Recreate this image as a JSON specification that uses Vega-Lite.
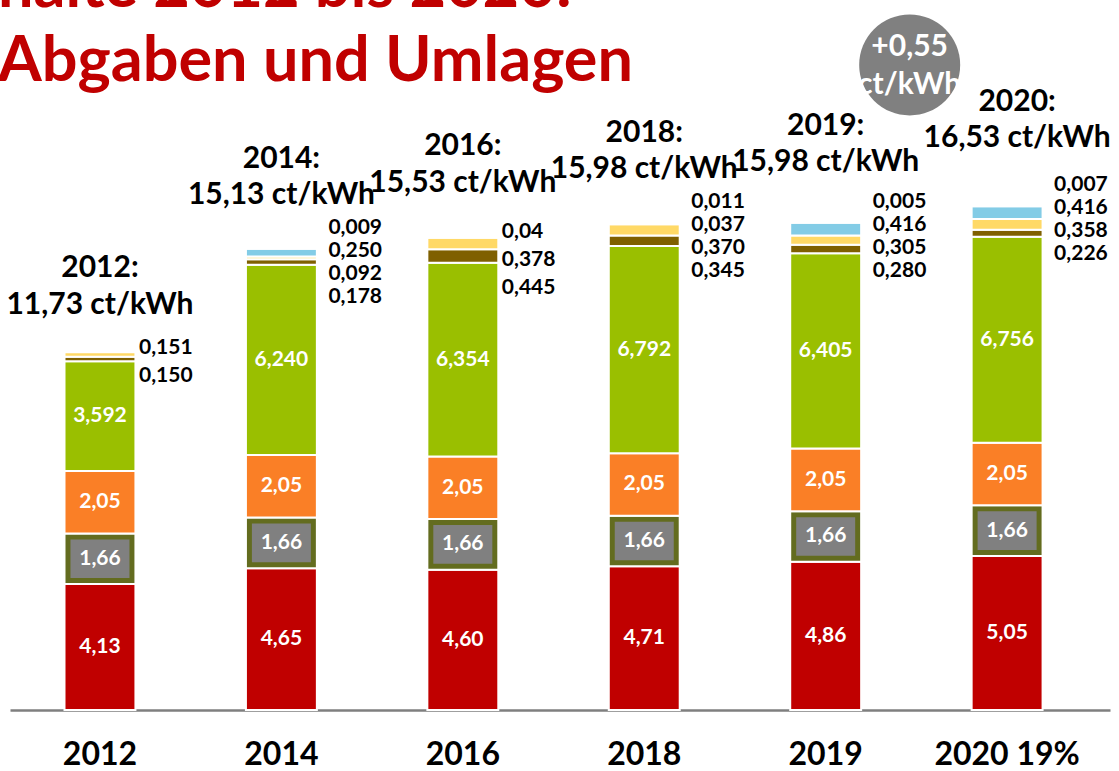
{
  "$schema": "https://vega.github.io/schema/vega-lite/v6.json",
  "autosize": "none",
  "width": 1100,
  "height": 610,
  "padding": {"left": 10, "top": 100, "right": 9, "bottom": 61},
  "background": "white",
  "config": {
    "view": {"stroke": null},
    "font": "Lato",
    "axisX": {
      "labelAngle": 0,
      "labelFont": "Lato",
      "labelFontSize": 32,
      "labelFontWeight": "bold",
      "labelColor": "#000000",
      "ticks": false,
      "domainColor": "#7f7f7f",
      "domainWidth": 2.5,
      "labelPadding": 29,
      "grid": false
    }
  },
  "title": {
    "text": ["halte 2012 bis 2020:", "Abgaben und Umlagen"],
    "anchor": "start",
    "frame": "group",
    "font": "Lato",
    "fontSize": 63,
    "fontWeight": "bold",
    "color": "#C00000",
    "lineHeight": 74,
    "baseline": "alphabetic",
    "offset": 0,
    "dx": -12,
    "dy": 130
  },
  "datasets": {
    "parts": [
      {"year": "2012", "part": "Mehrwertsteuer", "k": 1, "value": 4.13, "label": "4,13"},
      {"year": "2012", "part": "Konzessionsabgabe", "k": 2, "value": 1.66, "label": "1,66"},
      {"year": "2012", "part": "Stromsteuer", "k": 3, "value": 2.05, "label": "2,05"},
      {"year": "2012", "part": "EEG-Umlage", "k": 4, "value": 3.592, "label": "3,592"},
      {"year": "2012", "part": "KWK-Umlage", "k": 5, "value": 0.150},
      {"year": "2012", "part": "§19 StromNEV-Umlage", "k": 6, "value": 0.151},
      {"year": "2014", "part": "Mehrwertsteuer", "k": 1, "value": 4.65, "label": "4,65"},
      {"year": "2014", "part": "Konzessionsabgabe", "k": 2, "value": 1.66, "label": "1,66"},
      {"year": "2014", "part": "Stromsteuer", "k": 3, "value": 2.05, "label": "2,05"},
      {"year": "2014", "part": "EEG-Umlage", "k": 4, "value": 6.240, "label": "6,240"},
      {"year": "2014", "part": "KWK-Umlage", "k": 5, "value": 0.178},
      {"year": "2014", "part": "§19 StromNEV-Umlage", "k": 6, "value": 0.092},
      {"year": "2014", "part": "Offshore-Haftungsumlage", "k": 7, "value": 0.250},
      {"year": "2014", "part": "Umlage abschaltbare Lasten", "k": 8, "value": 0.009},
      {"year": "2016", "part": "Mehrwertsteuer", "k": 1, "value": 4.60, "label": "4,60"},
      {"year": "2016", "part": "Konzessionsabgabe", "k": 2, "value": 1.66, "label": "1,66"},
      {"year": "2016", "part": "Stromsteuer", "k": 3, "value": 2.05, "label": "2,05"},
      {"year": "2016", "part": "EEG-Umlage", "k": 4, "value": 6.354, "label": "6,354"},
      {"year": "2016", "part": "KWK-Umlage", "k": 5, "value": 0.445},
      {"year": "2016", "part": "§19 StromNEV-Umlage", "k": 6, "value": 0.378},
      {"year": "2016", "part": "Offshore-Haftungsumlage", "k": 7, "value": 0.04},
      {"year": "2018", "part": "Mehrwertsteuer", "k": 1, "value": 4.71, "label": "4,71"},
      {"year": "2018", "part": "Konzessionsabgabe", "k": 2, "value": 1.66, "label": "1,66"},
      {"year": "2018", "part": "Stromsteuer", "k": 3, "value": 2.05, "label": "2,05"},
      {"year": "2018", "part": "EEG-Umlage", "k": 4, "value": 6.792, "label": "6,792"},
      {"year": "2018", "part": "KWK-Umlage", "k": 5, "value": 0.345},
      {"year": "2018", "part": "§19 StromNEV-Umlage", "k": 6, "value": 0.370},
      {"year": "2018", "part": "Offshore-Haftungsumlage", "k": 7, "value": 0.037},
      {"year": "2018", "part": "Umlage abschaltbare Lasten", "k": 8, "value": 0.011},
      {"year": "2019", "part": "Mehrwertsteuer", "k": 1, "value": 4.86, "label": "4,86"},
      {"year": "2019", "part": "Konzessionsabgabe", "k": 2, "value": 1.66, "label": "1,66"},
      {"year": "2019", "part": "Stromsteuer", "k": 3, "value": 2.05, "label": "2,05"},
      {"year": "2019", "part": "EEG-Umlage", "k": 4, "value": 6.405, "label": "6,405"},
      {"year": "2019", "part": "KWK-Umlage", "k": 5, "value": 0.280},
      {"year": "2019", "part": "§19 StromNEV-Umlage", "k": 6, "value": 0.305},
      {"year": "2019", "part": "Offshore-Haftungsumlage", "k": 7, "value": 0.416},
      {"year": "2019", "part": "Umlage abschaltbare Lasten", "k": 8, "value": 0.005},
      {"year": "2020", "part": "Mehrwertsteuer", "k": 1, "value": 5.05, "label": "5,05"},
      {"year": "2020", "part": "Konzessionsabgabe", "k": 2, "value": 1.66, "label": "1,66"},
      {"year": "2020", "part": "Stromsteuer", "k": 3, "value": 2.05, "label": "2,05"},
      {"year": "2020", "part": "EEG-Umlage", "k": 4, "value": 6.756, "label": "6,756"},
      {"year": "2020", "part": "KWK-Umlage", "k": 5, "value": 0.226},
      {"year": "2020", "part": "§19 StromNEV-Umlage", "k": 6, "value": 0.358},
      {"year": "2020", "part": "Offshore-Haftungsumlage", "k": 7, "value": 0.416},
      {"year": "2020", "part": "Umlage abschaltbare Lasten", "k": 8, "value": 0.007}
    ],
    "tops": [
      {"year": "2012", "total": 11.73, "head": ["2012:", "11,73 ct/kWh"], "small": ["0,151", "0,150"]},
      {"year": "2014", "total": 15.13, "head": ["2014:", "15,13 ct/kWh"], "small": ["0,009", "0,250", "0,092", "0,178"]},
      {"year": "2016", "total": 15.53, "head": ["2016:", "15,53 ct/kWh"], "small": ["0,04", "0,378", "0,445"]},
      {"year": "2018", "total": 15.98, "head": ["2018:", "15,98 ct/kWh"], "small": ["0,011", "0,037", "0,370", "0,345"]},
      {"year": "2019", "total": 15.98, "head": ["2019:", "15,98 ct/kWh"], "small": ["0,005", "0,416", "0,305", "0,280"]},
      {"year": "2020", "total": 16.53, "head": ["2020:", "16,53 ct/kWh"], "small": ["0,007", "0,416", "0,358", "0,226"]}
    ],
    "badge": [{"line": ["+0,55", "ct/kWh"]}]
  },
  "layer": [
    {
      "data": {"name": "parts"},
      "transform": [
        {"stack": "value", "groupby": ["year"], "sort": [{"field": "k", "order": "ascending"}], "as": ["lo", "hi"]}
      ],
      "mark": {"type": "bar", "stroke": "#ffffff", "strokeWidth": 2},
      "encoding": {
        "x": {
          "field": "year", "type": "nominal", "title": null,
          "scale": {"paddingInner": 0.609, "paddingOuter": 0.336, "align": 0.447},
          "axis": {"labelExpr": "datum.value == '2020' ? '2020 19%' : datum.value"}
        },
        "y": {"field": "lo", "type": "quantitative", "title": null, "axis": null, "scale": {"domain": [0, 20], "nice": false}},
        "y2": {"field": "hi"},
        "color": {
          "field": "part", "type": "nominal", "legend": null,
          "scale": {
            "domain": ["Mehrwertsteuer", "Konzessionsabgabe", "Stromsteuer", "EEG-Umlage", "KWK-Umlage", "§19 StromNEV-Umlage", "Offshore-Haftungsumlage", "Umlage abschaltbare Lasten"],
            "range": ["#C00000", "#636C1F", "#FA7F26", "#9ABF00", "#7F6000", "#FFD966", "#83CCE6", "#8064A2"]
          }
        }
      }
    },
    {
      "data": {"name": "parts"},
      "transform": [
        {"stack": "value", "groupby": ["year"], "sort": [{"field": "k", "order": "ascending"}], "as": ["lo", "hi"]},
        {"filter": "datum.k == 2"}
      ],
      "mark": {"type": "bar", "color": "#808080", "width": 59, "yOffset": -6, "y2Offset": 6},
      "encoding": {
        "x": {"field": "year", "type": "nominal", "title": null},
        "y": {"field": "lo", "type": "quantitative", "title": null, "axis": null},
        "y2": {"field": "hi"}
      }
    },
    {
      "data": {"name": "parts"},
      "transform": [
        {"stack": "value", "groupby": ["year"], "sort": [{"field": "k", "order": "ascending"}], "as": ["lo", "hi"]},
        {"filter": "datum.k <= 4"},
        {"calculate": "(datum.lo + datum.hi) / 2", "as": "mid"}
      ],
      "mark": {"type": "text", "color": "#ffffff", "font": "Lato", "fontSize": 21, "fontWeight": "bold", "align": "center", "baseline": "middle"},
      "encoding": {
        "x": {"field": "year", "type": "nominal", "title": null},
        "y": {"field": "mid", "type": "quantitative", "title": null, "axis": null},
        "text": {"field": "label", "type": "nominal"}
      }
    },
    {
      "data": {"name": "tops"},
      "transform": [{"filter": "datum.year == '2012'"}],
      "mark": {"type": "text", "color": "#000000", "font": "Lato", "fontSize": 30, "fontWeight": "bold", "align": "center", "baseline": "middle", "lineHeight": 36.5, "dy": -84},
      "encoding": {
        "x": {"field": "year", "type": "nominal", "title": null},
        "y": {"field": "total", "type": "quantitative", "title": null, "axis": null},
        "text": {"field": "head", "type": "nominal"}
      }
    },
    {
      "data": {"name": "tops"},
      "transform": [{"filter": "datum.year == '2014' || datum.year == '2016' || datum.year == '2018'"}],
      "mark": {"type": "text", "color": "#000000", "font": "Lato", "fontSize": 30, "fontWeight": "bold", "align": "center", "baseline": "middle", "lineHeight": 36.5, "dy": -90},
      "encoding": {
        "x": {"field": "year", "type": "nominal", "title": null},
        "y": {"field": "total", "type": "quantitative", "title": null, "axis": null},
        "text": {"field": "head", "type": "nominal"}
      }
    },
    {
      "data": {"name": "tops"},
      "transform": [{"filter": "datum.year == '2019'"}],
      "mark": {"type": "text", "color": "#000000", "font": "Lato", "fontSize": 30, "fontWeight": "bold", "align": "center", "baseline": "middle", "lineHeight": 36.5, "dy": -97},
      "encoding": {
        "x": {"field": "year", "type": "nominal", "title": null},
        "y": {"field": "total", "type": "quantitative", "title": null, "axis": null},
        "text": {"field": "head", "type": "nominal"}
      }
    },
    {
      "data": {"name": "tops"},
      "transform": [{"filter": "datum.year == '2020'"}],
      "mark": {"type": "text", "color": "#000000", "font": "Lato", "fontSize": 30, "fontWeight": "bold", "align": "center", "baseline": "middle", "lineHeight": 36.5, "dy": -104, "dx": 10},
      "encoding": {
        "x": {"field": "year", "type": "nominal", "title": null},
        "y": {"field": "total", "type": "quantitative", "title": null, "axis": null},
        "text": {"field": "head", "type": "nominal"}
      }
    },
    {
      "data": {"name": "tops"},
      "transform": [{"filter": "datum.year != '2012' && datum.year != '2016'"}],
      "mark": {"type": "text", "color": "#000000", "font": "Lato", "fontSize": 21, "fontWeight": "bold", "align": "left", "baseline": "middle", "lineHeight": 23, "dy": -21, "dx": 47},
      "encoding": {
        "x": {"field": "year", "type": "nominal", "title": null},
        "y": {"field": "total", "type": "quantitative", "title": null, "axis": null},
        "text": {"field": "small", "type": "nominal"}
      }
    },
    {
      "data": {"name": "tops"},
      "transform": [{"filter": "datum.year == '2012' || datum.year == '2016'"}],
      "mark": {"type": "text", "color": "#000000", "font": "Lato", "fontSize": 21, "fontWeight": "bold", "align": "left", "baseline": "middle", "lineHeight": 28, "dy": -4.5, "dx": 39},
      "encoding": {
        "x": {"field": "year", "type": "nominal", "title": null},
        "y": {"field": "total", "type": "quantitative", "title": null, "axis": null},
        "text": {"field": "small", "type": "nominal"}
      }
    },
    {
      "data": {"name": "badge"},
      "mark": {"type": "point", "shape": "circle", "filled": true, "color": "#808080", "opacity": 1, "size": 10200, "xOffset": 84},
      "encoding": {
        "x": {"datum": "2019", "type": "nominal", "title": null},
        "y": {"datum": 21.15, "type": "quantitative", "title": null, "axis": null}
      }
    },
    {
      "data": {"name": "badge"},
      "mark": {"type": "text", "color": "#ffffff", "font": "Lato", "fontSize": 30, "fontWeight": "bold", "align": "center", "baseline": "middle", "lineHeight": 38, "dy": -18, "dx": 84},
      "encoding": {
        "x": {"datum": "2019", "type": "nominal", "title": null},
        "y": {"datum": 21.15, "type": "quantitative", "title": null, "axis": null},
        "text": {"field": "line", "type": "nominal"}
      }
    }
  ]
}
